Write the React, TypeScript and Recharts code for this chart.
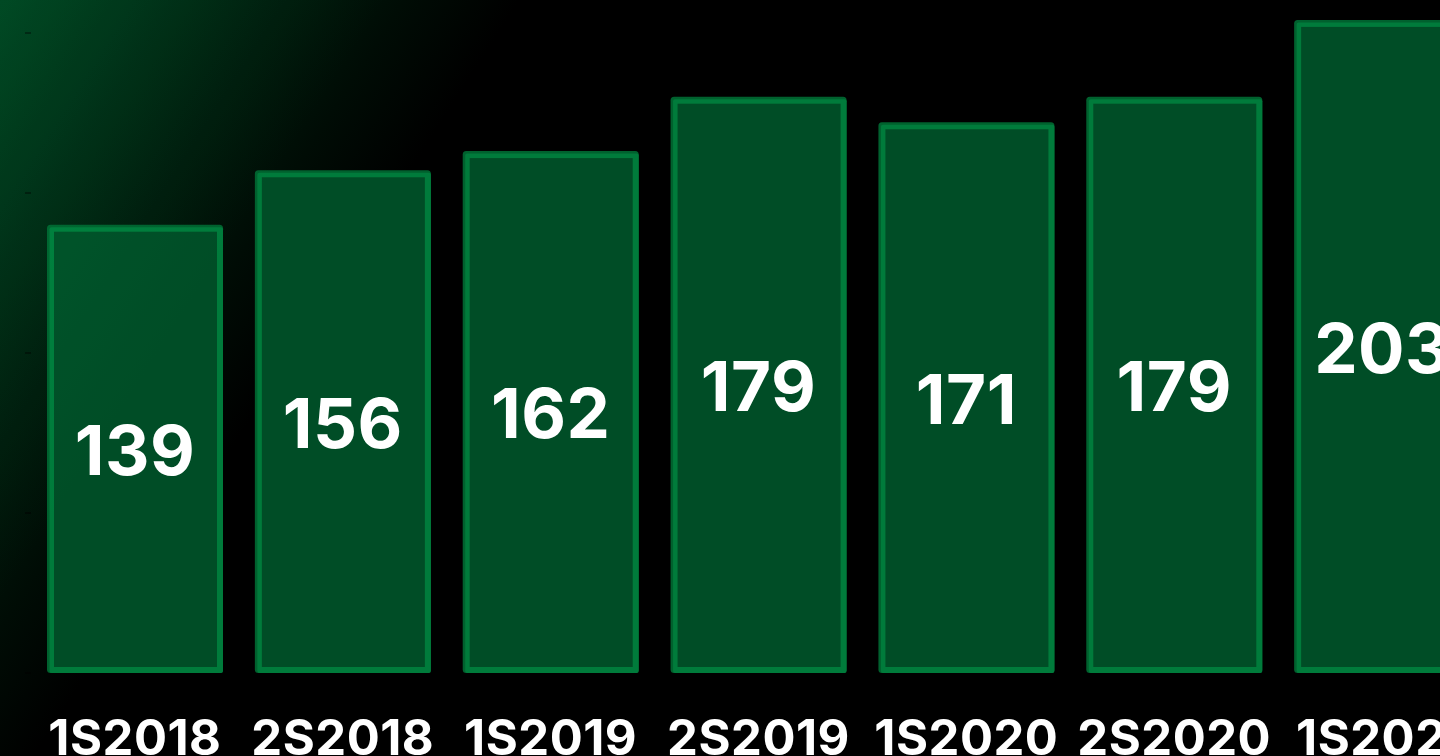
import React from 'react';
import { BarChart, Bar, XAxis, YAxis, LabelList } from 'recharts';

const categories = ['1S2018', '2S2018', '1S2019', '2S2019', '1S2020', '2S2020', '1S2021'];
const values = [139, 156, 162, 179, 171, 179, 203];
const yTicks = [0, 50, 100, 150, 200];

const data = categories.map((c, i) => ({ period: c, value: values[i] }));

const FONT = 'Inter, "Noto Sans", sans-serif';

const BarShape = (props: any) => {
  const { x, y, width, height } = props;
  const top = y - 3.5;
  const bottom = y + height;
  const h = bottom - top;
  return (
    <g>
      <rect x={x} y={top} width={width} height={h} rx={3.5} ry={3.5} fill="#00612e" />
      <rect x={x + 2.5} y={top + 2.5} width={width - 2.5} height={h - 2.5} rx={2} ry={2} fill="#007b3b" />
      <rect x={x + 7} y={top + 7} width={width - 13} height={h - 13} fill="#004d26" />
    </g>
  );
};

const XTick = (props: any) => {
  const { x, y, payload } = props;
  return (
    <text
      x={x}
      y={y + 74}
      textAnchor="middle"
      fill="#ffffff"
      fontFamily={FONT}
      fontWeight={700}
      fontSize={49}
      letterSpacing={0.5}
    >
      {payload.value}
    </text>
  );
};

const EmptyTick = () => <g />;

export default function App() {
  return (
    <div
      style={{
        position: 'absolute',
        left: 0,
        top: 0,
        width: 1440,
        height: 756,
        overflow: 'hidden',
        background:
          'linear-gradient(122.7deg, #003a1b 0%, #002c15 7%, #001c0d 14%, #000c05 21%, #000000 27%)',
      }}
    >
      <BarChart
        width={1486}
        height={800}
        data={data}
        margin={{ top: 17, right: 0, bottom: 0, left: 2 }}
      >
        <YAxis
          domain={[0, 205]}
          ticks={yTicks}
          width={29}
          axisLine={false}
          tickLine={{ stroke: '#000000', strokeOpacity: 0.5, strokeWidth: 2 }}
          tickSize={6}
          tick={<EmptyTick />}
        />
        <XAxis
          dataKey="period"
          height={127}
          axisLine={false}
          tickLine={false}
          interval={0}
          tick={<XTick />}
        />
        <Bar dataKey="value" barSize={176} shape={<BarShape />} isAnimationActive={false}>
          <LabelList
            dataKey="value"
            position="center"
            fill="#ffffff"
            fontFamily={FONT}
            fontWeight={700}
            fontSize={69}
            letterSpacing={0.5}
          />
        </Bar>
      </BarChart>
      <div
        style={{
          position: 'absolute',
          left: 0,
          top: 0,
          width: 1440,
          height: 756,
          pointerEvents: 'none',
          mixBlendMode: 'screen',
          background:
            'linear-gradient(122.7deg, #00140a 0%, #000a04 10%, #000000 20%)',
        }}
      />
    </div>
  );
}
